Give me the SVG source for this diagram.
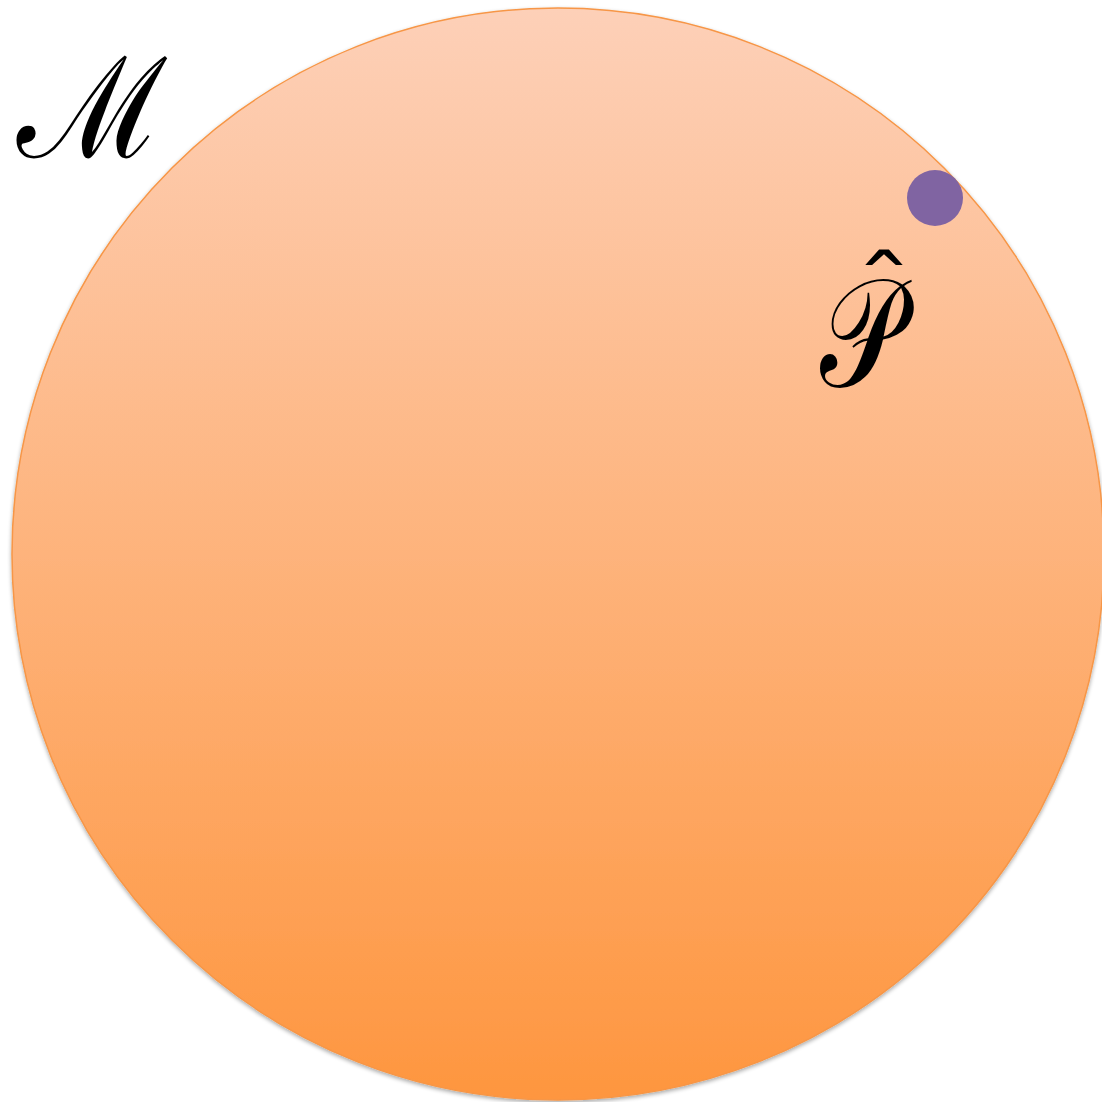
<svg xmlns="http://www.w3.org/2000/svg" width="1102" height="1102" viewBox="0 0 1102 1102">
<defs>
<linearGradient id="g" x1="0" y1="0" x2="0" y2="1">
<stop offset="0" stop-color="#FDD0B8"/>
<stop offset="1" stop-color="#FE963F"/>
</linearGradient>
<filter id="sh" x="-5%" y="-5%" width="110%" height="110%">
<feGaussianBlur in="SourceAlpha" stdDeviation="2"/>
<feOffset dy="2"/>
<feComponentTransfer><feFuncA type="linear" slope="0.35"/></feComponentTransfer>
<feMerge><feMergeNode/><feMergeNode in="SourceGraphic"/></feMerge>
</filter>
<style>
.lbl{font-family:"DejaVu Serif",serif;fill:#000}
</style>
</defs>
<rect width="1102" height="1102" fill="#fff"/>
<g id="manifold">
<circle cx="558" cy="554" r="546" fill="url(#g)" stroke="#F79646" stroke-width="1.5" filter="url(#sh)"/>
</g>
<g id="point">
<circle cx="935" cy="198" r="28" fill="#8064A2"/>
</g>
<g id="label-M">
<text class="lbl" font-size="140" transform="translate(17,157) scale(0.93,1)">ℳ</text>
</g>
<g id="label-P">
<text class="lbl" font-size="152" transform="translate(820,386) scale(0.75,1)">𝒫</text>
<text class="lbl" text-anchor="middle" font-size="60" transform="translate(884,317) scale(2,1.4)">ˆ</text>
</g>
</svg>
